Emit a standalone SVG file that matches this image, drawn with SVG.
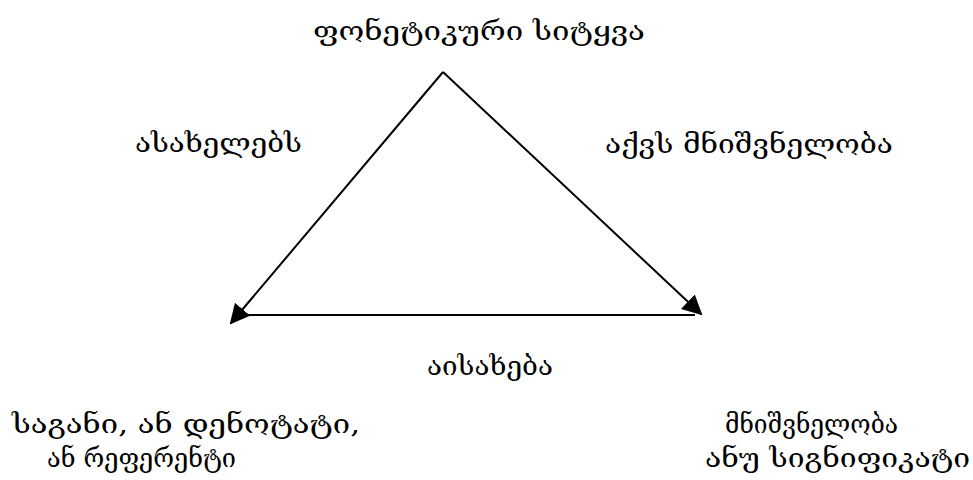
<svg xmlns="http://www.w3.org/2000/svg" width="973" height="480" viewBox="0 0 973 480">
<style>
text{font-family:"DejaVu Serif","DejaVu Sans",serif;font-size:26px;fill:#000}
.l{stroke:#000;stroke-width:2;fill:none}
</style>
<defs>
<marker id="ah" viewBox="0 0 10 10" refX="9" refY="5" markerWidth="20" markerHeight="20" markerUnits="userSpaceOnUse" orient="auto"><path d="M0,0 L10,5 L0,10 z"/></marker>
</defs>
<g id="connectors">
<line class="l" x1="443" y1="72" x2="231" y2="323" marker-end="url(#ah)"/>
<line class="l" x1="443" y1="72" x2="701" y2="314" marker-end="url(#ah)"/>
<line class="l" x1="248" y1="315" x2="695" y2="315"/>
</g>
<g id="top"><text x="313" y="40" textLength="332" lengthAdjust="spacingAndGlyphs">ფონეტიკური სიტყვა</text></g>
<g id="lbl1"><text x="135" y="152" textLength="167" lengthAdjust="spacingAndGlyphs">ასახელებს</text></g>
<g id="lbl2"><text x="605" y="153" textLength="288" lengthAdjust="spacingAndGlyphs">აქვს მნიშვნელობა</text></g>
<g id="lbl3"><text x="427" y="375" textLength="126" lengthAdjust="spacingAndGlyphs">აისახება</text></g>
<g id="left"><text x="12" y="433" textLength="348" lengthAdjust="spacingAndGlyphs">საგანი, ან დენოტატი,</text><text x="47" y="467" textLength="189" lengthAdjust="spacingAndGlyphs">ან რეფერენტი</text></g>
<g id="right"><text x="725" y="433" textLength="173" lengthAdjust="spacingAndGlyphs">მნიშვნელობა</text><text x="705" y="467" textLength="265" lengthAdjust="spacingAndGlyphs">ანუ სიგნიფიკატი</text></g>
</svg>
